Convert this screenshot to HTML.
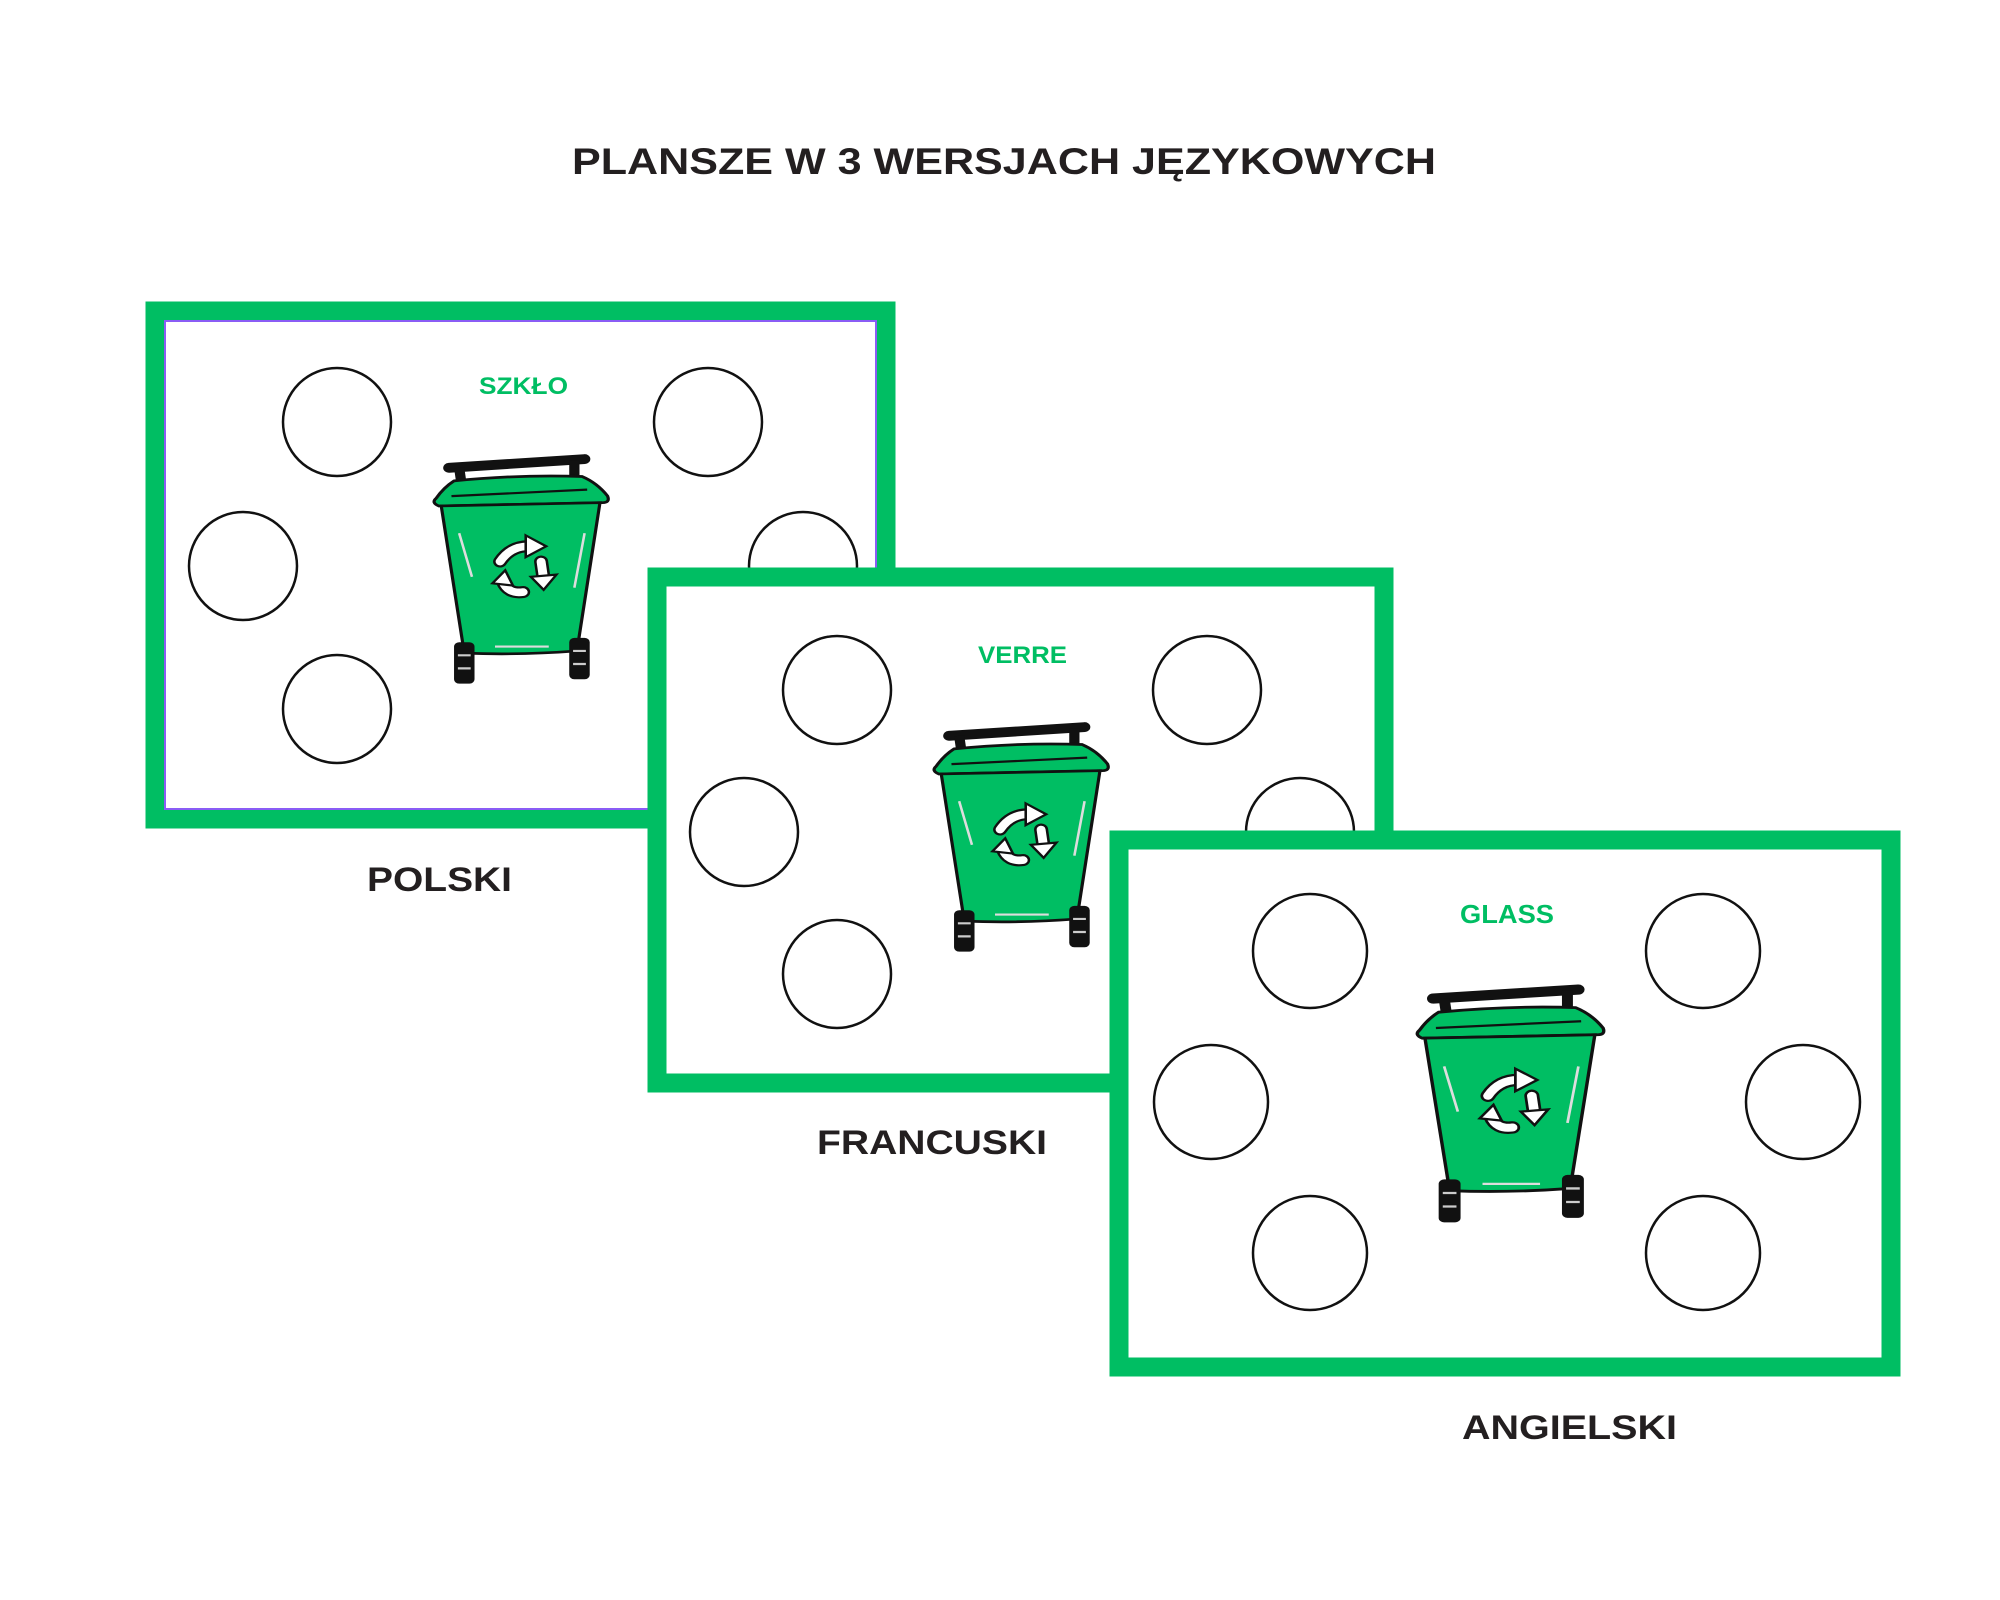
<!DOCTYPE html>
<html><head><meta charset="utf-8"><style>html,body{margin:0;padding:0;background:#fff}svg{display:block}</style></head>
<body>
<svg width="2000" height="1600" viewBox="0 0 2000 1600" xmlns="http://www.w3.org/2000/svg" font-family="Liberation Sans, sans-serif">
<defs>
<g id="bin">
  <path d="M14 20 L120 12" stroke="#111" stroke-width="9" stroke-linecap="round"/>
  <path d="M22 20 L24 36 M112 13 L112 30" stroke="#111" stroke-width="8"/>
  <path d="M18 32 Q70 26 118 28 Q130 34 138 46 Q140 52 134 52 L6 55 Q0 52 4 48 Q10 38 18 32 Z" fill="#00BE63" stroke="#111" stroke-width="2.5"/>
  <path d="M16 46 L122 40" stroke="#111" stroke-width="2"/>
  <path d="M8 55 L132 52 L114 188 Q70 192 26 190 Z" fill="#00BE63" stroke="#111" stroke-width="2.5"/>
  <path d="M22 80 L32 120 M120 80 L112 130 M50 184 L92 184" stroke="#ddd" stroke-width="2"/>
  <g transform="translate(-8,-6)">
  <path d="M62 112 Q70 98 84 98" stroke="#111" stroke-width="11" fill="none" stroke-linecap="round"/>
  <path d="M62 112 Q70 98 84 98" stroke="#fff" stroke-width="7" fill="none" stroke-linecap="round"/>
  <path d="M82 88 L98 98 L82 108 Z" fill="#fff" stroke="#111" stroke-width="2"/>
  <path d="M94 112 L96 128" stroke="#111" stroke-width="11" stroke-linecap="round"/>
  <path d="M94 112 L96 128" stroke="#fff" stroke-width="7" stroke-linecap="round"/>
  <path d="M86 126 L106 124 L96 138 Z" fill="#fff" stroke="#111" stroke-width="2"/>
  <path d="M80 140 Q68 142 64 130" stroke="#111" stroke-width="11" fill="none" stroke-linecap="round"/>
  <path d="M80 140 Q68 142 64 130" stroke="#fff" stroke-width="7" fill="none" stroke-linecap="round"/>
  <path d="M56 132 L66 120 L72 134 Z" fill="#fff" stroke="#111" stroke-width="2"/>
  </g>
  <rect x="18" y="180" width="16" height="38" rx="4" fill="#111"/>
  <rect x="108" y="176" width="16" height="38" rx="4" fill="#111"/>
  <path d="M21 192 H31 M21 204 H31 M111 188 H121 M111 200 H121" stroke="#ccc" stroke-width="2"/>
</g>
</defs>

<text x="572" y="174" font-size="37" font-weight="bold" fill="#231f20" textLength="864" lengthAdjust="spacingAndGlyphs">PLANSZE W 3 WERSJACH JĘZYKOWYCH</text>

<!-- Card 1 -->
<rect x="155" y="311" width="731" height="508" fill="#fff" stroke="#00BE63" stroke-width="19"/>
<rect x="165" y="321" width="711" height="488" fill="none" stroke="#8a5cf5" stroke-width="2"/>
<g fill="none" stroke="#111" stroke-width="2.5">
<circle cx="337" cy="422" r="54"/><circle cx="708" cy="422" r="54"/>
<circle cx="243" cy="566" r="54"/><circle cx="803" cy="566" r="54"/>
<circle cx="337" cy="709" r="54"/></g>
<text x="479" y="394" font-size="24" font-weight="bold" fill="#00BE63" textLength="89" lengthAdjust="spacingAndGlyphs">SZKŁO</text>
<use href="#bin" transform="translate(431,446) scale(1.28,1.09)"/>
<text x="367" y="891" font-size="34" font-weight="bold" fill="#231f20" textLength="145" lengthAdjust="spacingAndGlyphs">POLSKI</text>

<!-- Card 2 -->
<rect x="657" y="577" width="727" height="506" fill="#fff" stroke="#00BE63" stroke-width="19"/>
<g fill="none" stroke="#111" stroke-width="2.5">
<circle cx="837" cy="690" r="54"/><circle cx="1207" cy="690" r="54"/>
<circle cx="744" cy="832" r="54"/><circle cx="1300" cy="832" r="54"/>
<circle cx="837" cy="974" r="54"/></g>
<text x="978" y="663" font-size="24" font-weight="bold" fill="#00BE63" textLength="89" lengthAdjust="spacingAndGlyphs">VERRE</text>
<use href="#bin" transform="translate(931,714) scale(1.28,1.09)"/>
<text x="817" y="1154" font-size="34" font-weight="bold" fill="#231f20" textLength="230" lengthAdjust="spacingAndGlyphs">FRANCUSKI</text>

<!-- Card 3 -->
<g transform="translate(-6,0)">
<rect x="1125" y="840" width="772" height="527" fill="#fff" stroke="#00BE63" stroke-width="19"/>
<g fill="none" stroke="#111" stroke-width="2.5">
<circle cx="1316" cy="951" r="57"/><circle cx="1709" cy="951" r="57"/>
<circle cx="1217" cy="1102" r="57"/><circle cx="1809" cy="1102" r="57"/>
<circle cx="1316" cy="1253" r="57"/><circle cx="1709" cy="1253" r="57"/></g>
<text x="1466" y="923" font-size="26" font-weight="bold" fill="#00BE63" textLength="94" lengthAdjust="spacingAndGlyphs">GLASS</text>
<use href="#bin" transform="translate(1420,976) scale(1.37,1.13)"/>
</g>
<text x="1462" y="1439" font-size="34" font-weight="bold" fill="#231f20" textLength="215" lengthAdjust="spacingAndGlyphs">ANGIELSKI</text>
</svg>
</body></html>
